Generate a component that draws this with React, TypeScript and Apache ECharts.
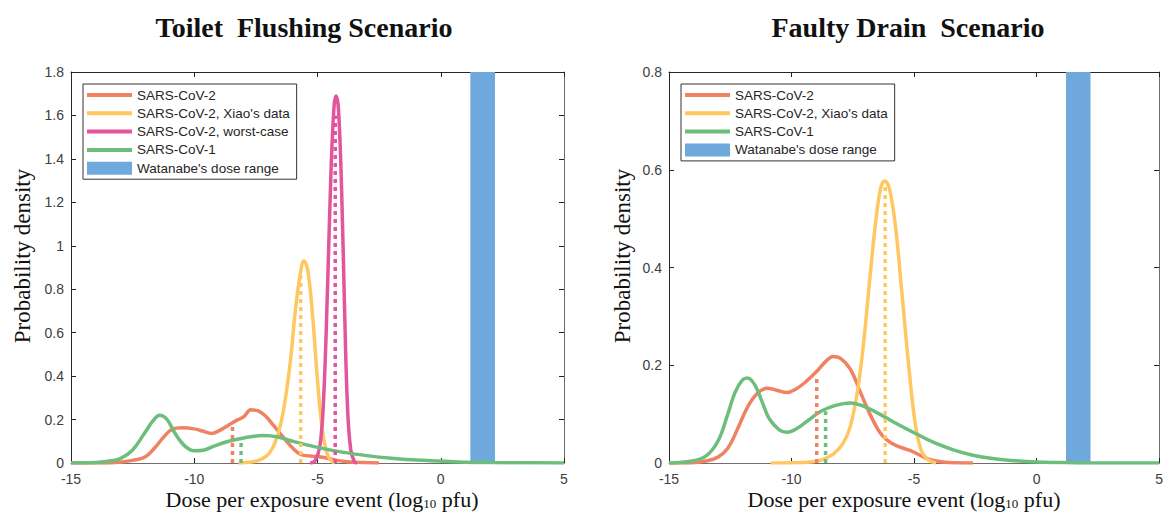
import React, { useEffect, useRef } from "react";
import * as echarts from "echarts";

// ---------- data ----------
const NAME_COV2 = "SARS-CoV-2";
const NAME_XIAO = "SARS-CoV-2, Xiao's data";
const NAME_WORST = "SARS-CoV-2, worst-case";
const NAME_COV1 = "SARS-CoV-1";
const NAME_WATANABE = "Watanabe's dose range";

const xMin = -15;
const xMax = 5;
const xStep = 5;
const toiletYMax = 1.8;
const toiletYStep = 0.2;
const drainYMax = 0.8;
const drainYStep = 0.2;

const watanabeRange: number[] = [1.2, 2.2];

// Toilet flushing scenario
const toiletCov2: number[][] = [
  [-15, 0], [-13.5, 0], [-13, 0.004], [-12.5, 0.012], [-12, 0.028], [-11.6, 0.07],
  [-11.2, 0.125], [-10.9, 0.155], [-10.5, 0.162], [-10, 0.157], [-9.6, 0.145],
  [-9.3, 0.136], [-9, 0.148], [-8.6, 0.175], [-8.3, 0.195], [-8, 0.212],
  [-7.7, 0.245], [-7.4, 0.24], [-7.1, 0.215], [-6.8, 0.175], [-6.4, 0.12],
  [-6, 0.068], [-5.7, 0.04], [-5.4, 0.033], [-5, 0.03], [-4.6, 0.022],
  [-4.2, 0.012], [-3.8, 0.006], [-3.2, 0.002], [-2.5, 0],
];
const toiletXiao: number[][] = [
  [-8.2, 0], [-7.8, 0.003], [-7.4, 0.012], [-7, 0.04], [-6.7, 0.1], [-6.4, 0.23],
  [-6.1, 0.47], [-5.9, 0.7], [-5.7, 0.87], [-5.55, 0.93], [-5.4, 0.89],
  [-5.2, 0.68], [-5.0, 0.38], [-4.8, 0.15], [-4.6, 0.04], [-4.4, 0.005], [-4.3, 0],
];
const toiletWorst: number[][] = [
  [-5.3, 0], [-5.1, 0.01], [-4.9, 0.08], [-4.75, 0.3], [-4.6, 0.78], [-4.45, 1.35],
  [-4.33, 1.64], [-4.25, 1.69], [-4.15, 1.63], [-4.02, 1.25], [-3.9, 0.7],
  [-3.78, 0.25], [-3.65, 0.06], [-3.5, 0.005], [-3.4, 0],
];
const toiletCov1: number[][] = [
  [-15, 0], [-14, 0.002], [-13.5, 0.008], [-13, 0.02], [-12.5, 0.06], [-12, 0.14],
  [-11.7, 0.19], [-11.4, 0.22], [-11.1, 0.2], [-10.8, 0.14], [-10.4, 0.08],
  [-10, 0.056], [-9.6, 0.06], [-9.2, 0.078], [-8.6, 0.1], [-8, 0.115],
  [-7.2, 0.127], [-6.6, 0.12], [-6, 0.1], [-5, 0.072], [-4, 0.05], [-3, 0.034],
  [-2, 0.022], [-1, 0.014], [0, 0.009], [1, 0.004], [2, 0.002], [3, 0.001], [5, 0],
];
// medians: [x, height]
const toiletMedCov2 = [-8.45, 0.185];
const toiletMedCov1 = [-8.1, 0.115];
const toiletMedXiao = [-5.68, 0.875];
const toiletMedWorst = [-4.28, 1.6];

// Faulty drain scenario
const drainCov2: number[][] = [
  [-15, 0], [-14.2, 0], [-13.5, 0.004], [-13, 0.012], [-12.6, 0.03], [-12.2, 0.07],
  [-11.8, 0.114], [-11.4, 0.142], [-11, 0.153], [-10.6, 0.149], [-10.2, 0.144],
  [-9.8, 0.152], [-9.4, 0.167], [-9, 0.186], [-8.6, 0.208], [-8.3, 0.218],
  [-8, 0.214], [-7.6, 0.192], [-7.2, 0.146], [-6.8, 0.1], [-6.4, 0.063],
  [-6.1, 0.047], [-5.7, 0.035], [-5.3, 0.028], [-5, 0.022], [-4.6, 0.012],
  [-4.2, 0.005], [-3.6, 0.001], [-2.6, 0],
];
const drainXiao: number[][] = [
  [-10.85, 0], [-9.5, 0.001], [-8.8, 0.006], [-8.3, 0.018], [-7.9, 0.04],
  [-7.6, 0.075], [-7.3, 0.15], [-7.05, 0.25], [-6.8, 0.38], [-6.55, 0.5],
  [-6.35, 0.565], [-6.2, 0.577], [-6.0, 0.56], [-5.75, 0.48], [-5.5, 0.35],
  [-5.2, 0.19], [-4.95, 0.08], [-4.7, 0.025], [-4.4, 0.006], [-4.1, 0],
];
const drainCov1: number[][] = [
  [-15, 0], [-14.2, 0.003], [-13.5, 0.014], [-13, 0.045], [-12.6, 0.1], [-12.3, 0.145],
  [-12, 0.17], [-11.8, 0.174], [-11.5, 0.16], [-11.2, 0.125], [-10.9, 0.09],
  [-10.5, 0.068], [-10.2, 0.063], [-9.8, 0.07], [-9.3, 0.088], [-8.8, 0.106],
  [-8.2, 0.118], [-7.6, 0.123], [-7, 0.115], [-6.4, 0.1], [-5.8, 0.083],
  [-5, 0.062], [-4.2, 0.042], [-3.4, 0.027], [-2.6, 0.016], [-1.8, 0.009],
  [-1, 0.005], [0, 0.002], [1, 0.001], [2, 0], [5, 0],
];
const drainMedCov2 = [-8.97, 0.177];
const drainMedCov1 = [-8.61, 0.106];
const drainMedXiao = [-6.18, 0.566];

// ---------- styling ----------
const C_COV2 = "#F08264";
const C_XIAO = "#FFC75F";
const C_WORST = "#E2559A";
const C_COV1 = "#6DBE7D";
const C_BLUE = "#6FA8DC";
const SERIF = "'Liberation Serif', 'Times New Roman', serif";
const SANS = "'Liberation Sans', Arial, sans-serif";

const LW = 3.5;
const LINE_ICON = "path://M0,0L0.01,0M0,4.5L45,4.5L45,8.5L0,8.5ZM44.99,13L45,13";

function curve(name: string, data: number[][], color: string, xi: number, yi: number, z = 3) {
  return {
    type: "line",
    name,
    data,
    xAxisIndex: xi,
    yAxisIndex: yi,
    smooth: 0.4,
    symbol: "none",
    showSymbol: false,
    z,
    lineStyle: { color, width: LW },
    itemStyle: { color, borderWidth: 0 },
    silent: true,
  };
}

function median(name: string, m: number[], color: string, xi: number, yi: number) {
  return {
    type: "line",
    name,
    data: [
      [m[0], 0],
      [m[0], m[1]],
    ],
    xAxisIndex: xi,
    yAxisIndex: yi,
    symbol: "none",
    showSymbol: false,
    z: 4,
    lineStyle: { color, width: LW, type: [4, 4] },
    itemStyle: { color },
    silent: true,
  };
}

function band(yTop: number, xi: number, yi: number) {
  return {
    type: "custom",
    name: NAME_WATANABE,
    xAxisIndex: xi,
    yAxisIndex: yi,
    z: 1,
    silent: true,
    itemStyle: { color: C_BLUE },
    data: [[watanabeRange[0], watanabeRange[1]]],
    renderItem: (params: any, api: any) => {
      const p0 = api.coord([api.value(0), yTop]);
      const p1 = api.coord([api.value(1), 0]);
      return {
        type: "rect",
        shape: { x: p0[0], y: p0[1], width: p1[0] - p0[0], height: p1[1] - p0[1] },
        style: { fill: C_BLUE },
      };
    },
  };
}

const AXIS_DARK = "#262626";
const AXIS_GRAY = "#6e6e6e";

function xAxes(grid: number) {
  return [
    {
      type: "value",
      gridIndex: grid,
      position: "bottom",
      min: xMin,
      max: xMax,
      interval: xStep,
      axisLine: { show: true, onZero: false, lineStyle: { color: AXIS_GRAY, width: 1 } },
      axisTick: { show: true, inside: true, length: 5, lineStyle: { color: AXIS_DARK } },
      axisLabel: {
        show: true,
        margin: 9,
        fontFamily: SANS,
        fontSize: 14,
        lineHeight: 14,
        color: "#404040",
      },
      splitLine: { show: false },
    },
    {
      type: "value",
      gridIndex: grid,
      position: "top",
      min: xMin,
      max: xMax,
      interval: xStep,
      axisLine: { show: true, onZero: false, lineStyle: { color: AXIS_DARK, width: 1 } },
      axisTick: { show: true, inside: true, length: 5, lineStyle: { color: AXIS_DARK } },
      axisLabel: { show: false },
      splitLine: { show: false },
    },
  ];
}

function yAxes(grid: number, yMaxV: number, yStep: number) {
  return [
    {
      type: "value",
      gridIndex: grid,
      position: "left",
      min: 0,
      max: yMaxV,
      interval: yStep,
      axisLine: { show: true, onZero: false, lineStyle: { color: AXIS_DARK, width: 1 } },
      axisTick: { show: true, inside: true, length: 5, lineStyle: { color: AXIS_DARK } },
      axisLabel: {
        show: true,
        margin: 7,
        fontFamily: SANS,
        fontSize: 14,
        color: "#404040",
        formatter: (v: number) => String(Math.round(v * 10) / 10),
      },
      splitLine: { show: false },
    },
    {
      type: "value",
      gridIndex: grid,
      position: "right",
      min: 0,
      max: yMaxV,
      interval: yStep,
      axisLine: { show: true, onZero: false, lineStyle: { color: AXIS_GRAY, width: 1 } },
      axisTick: { show: true, inside: true, length: 5, lineStyle: { color: AXIS_DARK } },
      axisLabel: { show: false },
      splitLine: { show: false },
    },
  ];
}

function legend(left: number, names: string[]) {
  return {
    show: true,
    orient: "vertical",
    left,
    top: 84,
    itemWidth: 45,
    itemHeight: 13,
    itemGap: 4.3,
    padding: [4, 7, 4, 4],
    borderColor: "#333333",
    borderWidth: 1,
    borderRadius: 0,
    backgroundColor: "#ffffff",
    selectedMode: false,
    itemStyle: { borderWidth: 0 },
    textStyle: { fontFamily: SANS, fontSize: 13.5, color: "#262626" },
    data: names.map((n) =>
      n === NAME_WATANABE
        ? { name: n, icon: "rect", itemStyle: { color: C_BLUE } }
        : { name: n, icon: LINE_ICON }
    ),
  };
}

function titleText(text: string, x: number) {
  return {
    type: "text",
    x,
    y: 27,
    style: {
      text,
      fontFamily: SERIF,
      fontWeight: "bold",
      fontSize: 28,
      fill: "#111111",
      align: "center",
      verticalAlign: "middle",
    },
  };
}

function yLabel(x: number) {
  return {
    type: "text",
    x,
    y: 256,
    rotation: Math.PI / 2,
    style: {
      text: "Probability density",
      fontFamily: SERIF,
      fontSize: 23,
      fill: "#111111",
      align: "center",
      verticalAlign: "middle",
    },
  };
}

function xLabel(x: number) {
  return {
    type: "text",
    x,
    y: 499,
    style: {
      text: "{a|Dose per exposure event (log}{s|10}{a| pfu)}",
      fill: "#111111",
      align: "center",
      verticalAlign: "middle",
      rich: {
        a: { fontFamily: SERIF, fontSize: 22, lineHeight: 22, verticalAlign: "middle", fill: "#111111" },
        s: { fontFamily: SERIF, fontSize: 13, lineHeight: 11, verticalAlign: "bottom", fill: "#111111" },
      },
    },
  };
}

export default function App() {
  const ref = useRef<HTMLDivElement>(null);

  useEffect(() => {
    if (!ref.current) return;
    const chart = echarts.init(ref.current, undefined, { renderer: "svg" });

    const option: any = {
      animation: false,
      backgroundColor: "#ffffff",
      grid: [
        { left: 71, top: 72, width: 493, height: 391, containLabel: false },
        { left: 669, top: 72, width: 493, height: 391, containLabel: false },
      ],
      xAxis: [...xAxes(0), ...xAxes(1)],
      yAxis: [...yAxes(0, toiletYMax, toiletYStep), ...yAxes(1, drainYMax, drainYStep)],
      legend: [
        legend(83, [NAME_COV2, NAME_XIAO, NAME_WORST, NAME_COV1, NAME_WATANABE]),
        legend(681, [NAME_COV2, NAME_XIAO, NAME_COV1, NAME_WATANABE]),
      ],
      series: [
        band(toiletYMax, 0, 0),
        curve(NAME_COV2, toiletCov2, C_COV2, 0, 0),
        curve(NAME_XIAO, toiletXiao, C_XIAO, 0, 0),
        curve(NAME_WORST, toiletWorst, C_WORST, 0, 0),
        curve(NAME_COV1, toiletCov1, C_COV1, 0, 0),
        median("median SARS-CoV-2 (toilet)", toiletMedCov2, C_COV2, 0, 0),
        median("median SARS-CoV-1 (toilet)", toiletMedCov1, C_COV1, 0, 0),
        median("median Xiao (toilet)", toiletMedXiao, C_XIAO, 0, 0),
        median("median worst-case (toilet)", toiletMedWorst, C_WORST, 0, 0),

        band(drainYMax, 2, 2),
        curve(NAME_COV2, drainCov2, C_COV2, 2, 2),
        curve(NAME_XIAO, drainXiao, C_XIAO, 2, 2),
        curve(NAME_COV1, drainCov1, C_COV1, 2, 2),
        median("median SARS-CoV-2 (drain)", drainMedCov2, C_COV2, 2, 2),
        median("median SARS-CoV-1 (drain)", drainMedCov1, C_COV1, 2, 2),
        median("median Xiao (drain)", drainMedXiao, C_XIAO, 2, 2),
      ],
      graphic: [
        titleText("Toilet  Flushing Scenario", 304),
        titleText("Faulty Drain  Scenario", 908),
        yLabel(22),
        yLabel(622),
        xLabel(322),
        xLabel(904),
      ],
    };

    chart.setOption(option);
    return () => chart.dispose();
  }, []);

  return (
    <div
      ref={ref}
      style={{ position: "absolute", left: 0, top: 0, width: 1166, height: 512, background: "#fff" }}
    />
  );
}
